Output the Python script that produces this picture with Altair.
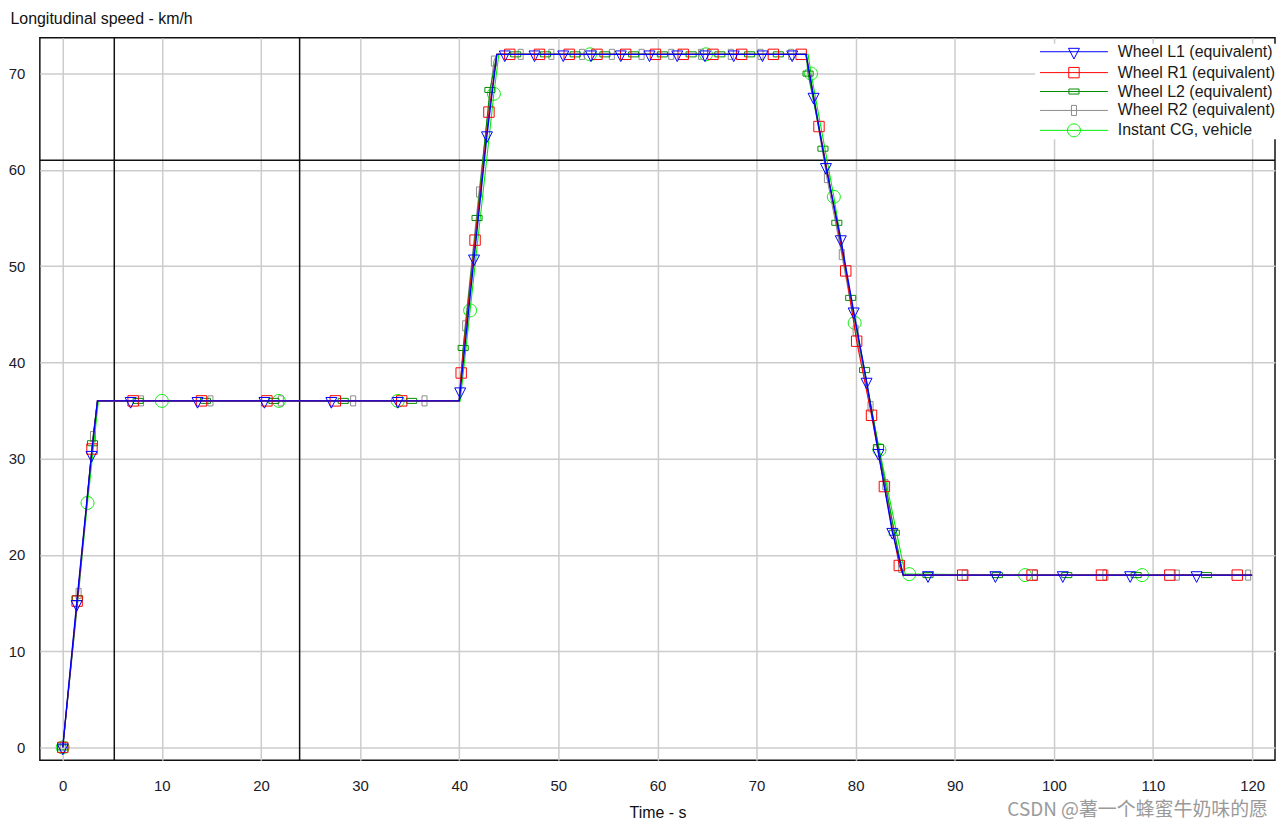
import altair as alt
import pandas as pd

# ---------------- data ----------------
series_names = ["Wheel L1 (equivalent)", "Wheel R1 (equivalent)", "Wheel L2 (equivalent)",
                "Wheel R2 (equivalent)", "Instant CG, vehicle"]
series_colors = ["#0000ff", "#ff0000", "#008c00", "#8c8c8c", "#00ee00"]

# marker samples (time s, speed km/h)
l1_t = [0, 1.4, 2.9, 6.85, 13.6, 20.35, 27.1, 33.8, 40.1, 41.5, 42.8,
        44.6, 47.6, 50.5, 53.3, 56.3, 59.2, 62.0, 64.8, 67.7, 70.6, 73.6,
        75.75, 77.0, 78.5, 79.8, 81.1, 82.3, 83.7, 87.3, 94.1, 100.9, 107.7, 114.4]
l1_v = [0, 14.9, 30.4, 36, 36, 36, 36, 36, 37.0, 50.8, 63.6,
        72, 72, 72, 72, 72, 72, 72, 72, 72, 72, 72,
        67.6, 60.3, 52.8, 45.3, 38.0, 30.6, 22.4, 17.9, 17.9, 17.9, 17.9, 17.9]

r1_t = [0, 1.45, 2.95, 7.1, 14.0, 20.6, 27.5, 34.2, 40.2, 41.6, 43.0,
        45.1, 48.1, 51.1, 53.9, 56.8, 59.8, 62.6, 65.6, 68.5, 71.7, 74.5,
        76.3, 79.0, 80.1, 81.6, 82.9, 84.4, 90.8, 97.8, 104.8, 111.7, 118.5]
r1_v = [0, 15.2, 31.0, 36, 36, 36, 36, 36, 38.9, 52.7, 66.0,
        72, 72, 72, 72, 72, 72, 72, 72, 72, 72, 72,
        64.5, 49.5, 42.2, 34.5, 27.1, 18.9, 17.9, 17.9, 17.9, 17.9, 17.9]

l2_t = [0, 1.5, 3.0, 7.6, 14.4, 21.3, 28.3, 35.2, 40.4, 41.8, 43.1,
        45.7, 48.7, 51.7, 54.7, 57.6, 60.5, 63.4, 66.3, 69.3, 72.2,
        75.2, 76.7, 78.1, 79.5, 80.9, 82.3, 83.9, 87.3, 94.3, 101.3, 108.3, 115.4]
l2_v = [0, 15.5, 31.6, 36, 36, 36, 36, 36, 41.5, 55.0, 68.3,
        72, 72, 72, 72, 72, 72, 72, 72, 72, 72,
        70.0, 62.2, 54.5, 46.7, 39.2, 31.2, 22.3, 17.9, 17.9, 17.9, 17.9, 17.9]

r2_t = [0, 1.6, 3.05, 7.9, 14.9, 22.0, 29.3, 36.5, 40.6, 42.0, 43.5,
        46.2, 49.3, 52.4, 55.4, 58.4, 61.4, 64.4, 67.4, 70.4, 73.5,
        77.1, 78.6, 80.0, 81.5, 83.0, 84.6, 91.0, 98.1, 105.2, 112.4, 119.6]
r2_v = [0, 16.0, 32.3, 36, 36, 36, 36, 36, 43.8, 57.7, 71.3,
        72, 72, 72, 72, 72, 72, 72, 72, 72, 72,
        59.2, 51.2, 43.3, 35.4, 27.3, 18.7, 17.9, 17.9, 17.9, 17.9, 17.9]

cg_t = [0, 2.5, 10.0, 21.8, 33.8, 41.1, 43.5, 53.2, 64.9,
        75.5, 77.8, 79.9, 82.4, 85.4, 97.1, 108.9]
cg_v = [0, 25.4, 36, 36, 36, 45.4, 67.9, 72, 72,
        70.0, 57.2, 44.1, 30.9, 18.0, 17.9, 17.9]

# corner points of the traces (between markers)
wheel_corner_t = [3.5, 40.0, 43.8, 75.0, 84.8, 120.0]
wheel_corner_v = [36.0, 36.0, 72.0, 72.0, 17.9, 17.9]
cg_corner_t = [3.6, 40.1, 44.0, 75.2, 85.0, 120.0]
cg_corner_v = [36.0, 36.0, 72.0, 72.0, 18.0, 17.9]

# cursor lines
cursor_t = [5.2, 23.9]
cursor_v = [61.0]

x_ticks = list(range(0, 121, 10))
y_ticks = list(range(0, 71, 10))
watermark = ["CSDN @薯一个蜂蜜牛奶味的愿"]

# ---------------- build ----------------
FONT = "Liberation Sans"

marker_paths = {
    "Wheel L1 (equivalent)": "M-1,-0.62L1,-0.62L0,1.33Z",
    "Wheel R1 (equivalent)": "M-0.95,-0.95L0.95,-0.95L0.95,0.95L-0.95,0.95Z",
    "Wheel L2 (equivalent)": "M-0.92,-0.46L0.92,-0.46L0.92,0.46L-0.92,0.46Z",
    "Wheel R2 (equivalent)": "M-0.46,-0.92L0.46,-0.92L0.46,0.92L-0.46,0.92Z",
    "Instant CG, vehicle": "M-1.18,0A1.18,1.18,0,1,0,1.18,0A1.18,1.18,0,1,0,-1.18,0Z",
}
legend_paths = ["M-6.2,0L6.2,0" + marker_paths[n] for n in series_names]

series_data = {
    "Wheel L1 (equivalent)": (l1_t, l1_v, wheel_corner_t, wheel_corner_v, 1.4),
    "Wheel R1 (equivalent)": (r1_t, r1_v, wheel_corner_t, wheel_corner_v, 1.1),
    "Wheel L2 (equivalent)": (l2_t, l2_v, wheel_corner_t, wheel_corner_v, 1.1),
    "Wheel R2 (equivalent)": (r2_t, r2_v, wheel_corner_t, wheel_corner_v, 1.1),
    "Instant CG, vehicle": (cg_t, cg_v, cg_corner_t, cg_corner_v, 1.1),
}
color_of = dict(zip(series_names, series_colors))

X = alt.X("t:Q", scale=alt.Scale(domain=[-2.31, 122.31], nice=False, zero=False),
          axis=alt.Axis(values=x_ticks, title="Time - s", titleY=52, titleBaseline="middle"))
Y = alt.Y("v:Q", scale=alt.Scale(domain=[-1.344, 73.72], nice=False, zero=False),
          axis=alt.Axis(values=y_ticks, title="Longitudinal speed - km/h", titleAngle=0,
                        titleAlign="left", titleBaseline="middle", titleX=-30, titleY=-19))

layers = []
layers.append(alt.Chart(pd.DataFrame({"t": cursor_t})).mark_rule(color="#111111", strokeWidth=1.5)
              .encode(x=X))
layers.append(alt.Chart(pd.DataFrame({"v": cursor_v})).mark_rule(color="#111111", strokeWidth=1.5)
              .encode(y=Y))

draw_order = ["Instant CG, vehicle", "Wheel R2 (equivalent)", "Wheel L2 (equivalent)",
              "Wheel R1 (equivalent)", "Wheel L1 (equivalent)"]
for name in draw_order:
    mt, mv, ct, cv, lw = series_data[name]
    pts = sorted(set(zip(mt, mv)) | set(zip(ct, cv)))
    line_df = pd.DataFrame({"t": [p[0] for p in pts], "v": [p[1] for p in pts]})
    mark_df = pd.DataFrame({"t": mt, "v": mv})
    layers.append(alt.Chart(line_df).mark_line(color=color_of[name], strokeWidth=lw, clip=True)
                  .encode(x=X, y=Y, order="t:Q"))
    layers.append(alt.Chart(mark_df).mark_point(shape=marker_paths[name], size=121, color=color_of[name],
                                                filled=False, strokeWidth=1, opacity=1, clip=True)
                  .encode(x=X, y=Y))

legend_kw = dict(title=None, orient="none", legendX=1000, legendY=6, padding=0, fillColor="white",
                 symbolSize=121, symbolStrokeWidth=1, symbolOffset=31, labelOffset=36,
                 labelFont=FONT, labelFontSize=16, labelColor="#1a1a1a", rowPadding=3,
                 labelLimit=400)
legend_layer = (alt.Chart(pd.DataFrame({"series": series_names}))
                .transform_filter("false")
                .mark_point(filled=False, size=121, opacity=1, strokeWidth=1)
                .encode(color=alt.Color("series:N", scale=alt.Scale(domain=series_names, range=series_colors),
                                        legend=alt.Legend(**legend_kw)),
                        shape=alt.Shape("series:N", scale=alt.Scale(domain=series_names, range=legend_paths),
                                        legend=alt.Legend(**legend_kw))))
layers.append(legend_layer)

wm = (alt.Chart(pd.DataFrame({"txt": watermark}))
      .mark_text(align="right", baseline="middle", font="Noto Sans CJK SC", fontSize=19, color="#9a9a9a")
      .encode(text="txt:N", x=alt.value(1234), y=alt.value(776)))
layers.append(wm)

chart = (alt.layer(*layers)
         .properties(width=1241, height=726, autosize=alt.AutoSizeParams(type="none"),
                     padding={"left": 32, "top": 28, "right": 1, "bottom": 60},
                     background="white")
         .configure_view(stroke="#111111", strokeWidth=1.5)
         .configure_axis(grid=True, gridColor="#cccccc", gridWidth=1.5, domain=False, ticks=False,
                         labelFont=FONT, labelFontSize=15, labelColor="#1a1a2a",
                         titleFont=FONT, titleFontSize=16, titleFontWeight="normal", titleColor="#111111")
         .configure_axisX(labelPadding=18)
         .configure_axisY(labelPadding=15))

chart.save("out.html", embed_options={"renderer": "svg", "actions": False})
